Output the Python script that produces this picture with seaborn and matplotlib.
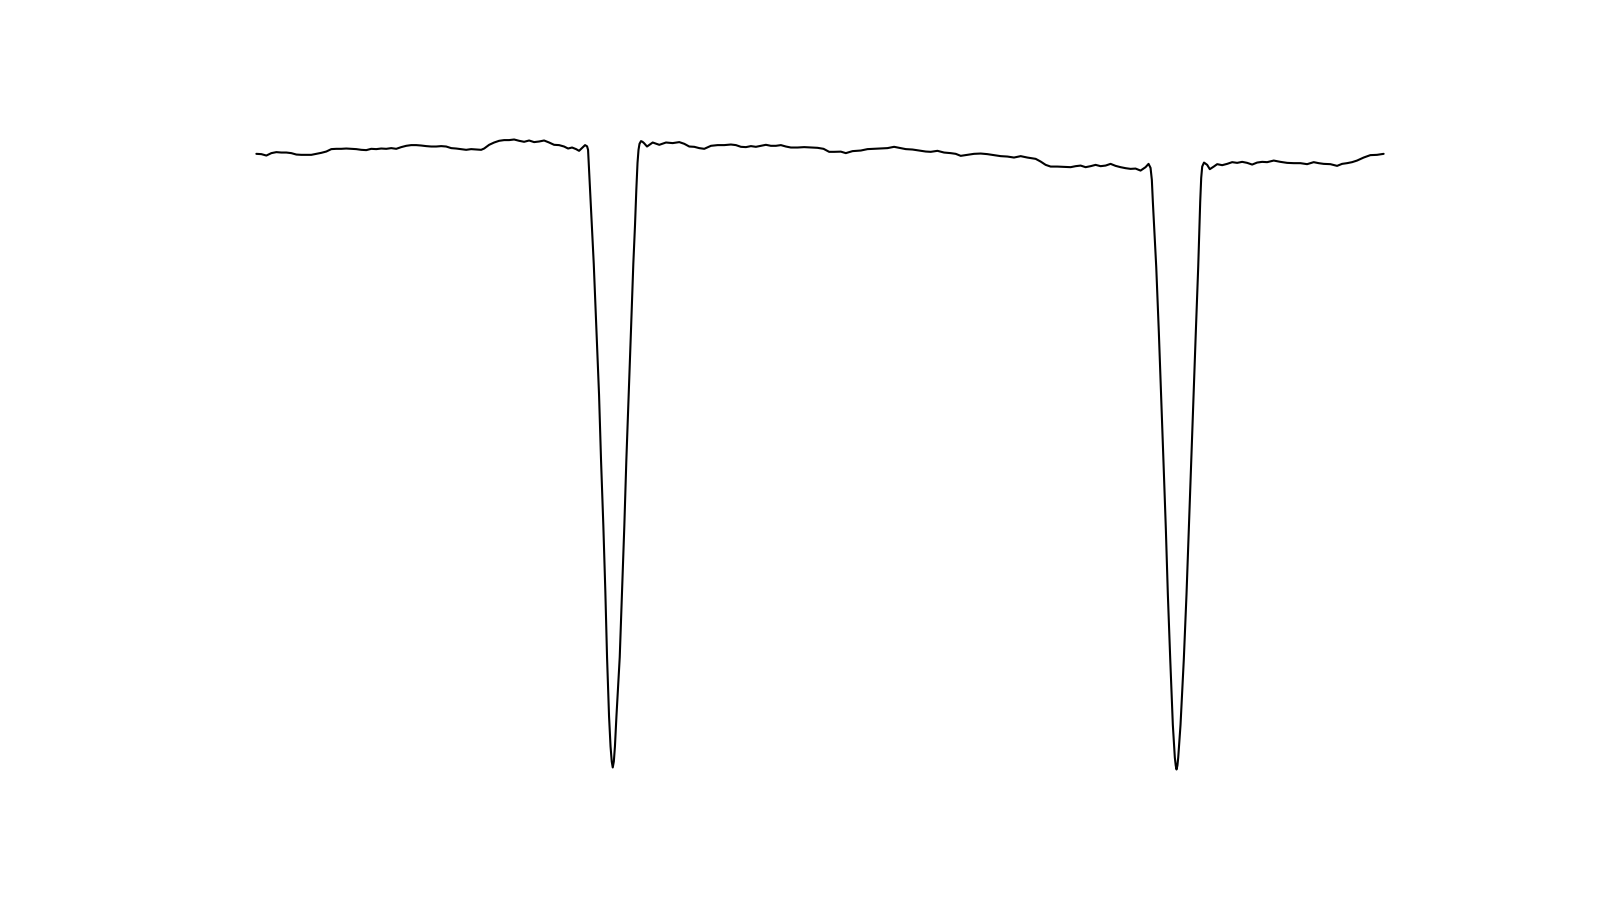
import matplotlib
matplotlib.use("Agg")
import matplotlib.pyplot as plt
import seaborn as sns

# temps (min) et flux relatif
time = [
    0, 5, 10, 15, 20, 25, 30, 35, 40, 45, 50, 55, 60, 65, 70, 75, 80, 85, 90, 95,
    100, 105, 110, 115, 120, 125, 130, 135, 140, 145, 150, 155, 160, 165, 170, 175,
    180, 185, 190, 195, 200, 205, 210, 215, 220, 225, 228, 233, 238, 243, 248, 253,
    258, 263, 268, 273, 278, 283, 288, 293, 298, 303, 308, 312, 316, 320, 323, 327,
    329, 331, 332, 332.5, 334, 336, 337.7, 340.3, 343, 345, 347.3, 349.3, 351, 353,
    354.5, 355.7, 356.7, 357.8, 358.9, 360.4, 363.7, 366, 368.3, 370.3, 372.7, 375,
    377.3, 379, 380.3, 381.5, 382.5, 383.5, 385, 386.5, 388, 391, 396.7, 403.3, 410,
    416.7, 423.3, 428.3, 433.3, 438.3, 443.3, 448.3, 455, 461.7, 468.3, 475, 480,
    485, 490, 495, 500, 505, 510, 515, 520, 525, 530, 535, 541.7, 548.3, 555, 561.7,
    567.7, 573.3, 578.3, 585, 590, 596.7, 605, 611.7, 618.3, 625, 631.7, 638.3,
    643.3, 650, 656.7, 663.3, 670, 675, 681.7, 688.3, 695, 700, 705, 711.7, 718.3,
    725, 731.7, 738.3, 745, 751.7, 758.3, 765, 771.7, 778.3, 780, 785, 790, 795,
    801.7, 808.3, 815, 820, 825, 830, 835, 840, 845, 850, 855, 860, 865, 870, 875,
    880, 885, 890, 893, 895, 896.3, 897.3, 900.7, 903.3, 905.7, 908, 910.3, 912.3,
    914.7, 917.3, 919.3, 920.2, 921, 921.9, 922.7, 925, 928.3, 931, 933.3, 935.7,
    938, 940.3, 942.7, 944.7, 945.7, 946.7, 948.5, 951.7, 954.3, 958.3, 961.7,
    966.7, 971.7, 976.7, 981.7, 986.7, 991.7, 996.7, 1001.7, 1006.7, 1011.7, 1018.3,
    1025, 1031.7, 1038.3, 1045, 1051.7, 1058.3, 1063.3, 1068.3, 1075, 1081.7,
    1086.7, 1091.7, 1096.7, 1101.7, 1108.3, 1115, 1121.7, 1128.3,
]

flux = [
    846.0, 845.7, 844.3, 846.7, 847.7, 847.3, 847.3, 846.7, 845.3, 845.0, 845.0,
    845.0, 846.0, 847.0, 848.3, 850.7, 851.0, 851.0, 851.3, 851.0, 850.7, 850.0,
    849.7, 851.0, 850.7, 851.3, 851.0, 851.7, 851.0, 852.7, 854.0, 854.7, 854.7,
    854.3, 853.7, 853.3, 853.3, 853.7, 853.3, 851.7, 851.3, 850.7, 850.0, 850.7,
    850.3, 850.0, 851.3, 855.0, 857.3, 859.0, 859.7, 859.7, 860.3, 859.0, 858.0,
    859.3, 857.7, 858.3, 859.3, 857.3, 855.0, 854.7, 853.3, 851.3, 852.3, 850.7,
    849.0, 852.7, 854.7, 853.5, 850.0, 840.0, 810.0, 770.0, 736.3, 671.0, 605.5,
    540.0, 475.0, 409.3, 344.0, 285.0, 255.0, 240.0, 234.0, 240.0, 255.0, 285.0,
    344.0, 409.3, 475.0, 540.0, 605.5, 671.0, 736.3, 775.0, 810.0, 837.0, 850.0,
    856.0, 858.7, 858.0, 856.7, 853.3, 857.3, 855.0, 857.3, 856.7, 857.7, 856.0,
    853.3, 853.0, 851.7, 851.0, 854.0, 854.7, 854.7, 855.3, 854.7, 853.0, 852.7,
    853.7, 853.0, 854.0, 855.0, 854.0, 854.0, 854.7, 853.3, 852.3, 852.3, 852.7,
    852.3, 852.0, 851.0, 848.0, 848.0, 848.2, 846.7, 848.7, 849.3, 850.7, 851.0,
    851.3, 851.7, 853.0, 852.0, 850.7, 850.3, 849.3, 848.3, 848.0, 849.0, 847.3,
    846.7, 846.0, 844.0, 845.0, 846.0, 846.3, 845.7, 844.7, 843.7, 843.3, 842.3,
    843.7, 842.3, 841.3, 841.0, 838.3, 835.0, 833.3, 833.3, 833.0, 832.7, 833.7,
    834.3, 832.7, 833.7, 835.0, 833.7, 834.3, 836.0, 834.0, 832.7, 831.7, 831.0,
    831.3, 829.3, 832.7, 836.0, 832.0, 820.0, 798.2, 733.0, 668.0, 602.6, 537.4,
    472.2, 407.0, 342.0, 276.6, 244.0, 236.0, 232.0, 236.0, 244.0, 276.6, 342.0,
    407.0, 472.2, 537.4, 602.6, 668.0, 733.0, 798.2, 822.0, 833.3, 837.3, 835.0,
    830.7, 833.3, 835.7, 834.7, 836.0, 837.7, 837.0, 838.0, 837.0, 835.3, 837.3,
    838.0, 837.7, 839.3, 838.0, 837.0, 836.7, 836.7, 835.7, 837.7, 836.7, 836.0,
    835.7, 834.0, 836.0, 836.7, 837.7, 839.3, 842.3, 844.7, 845.0, 846.0,
]

sns.set_style("white")

fig, ax = plt.subplots(figsize=(16, 9), dpi=100)
sns.lineplot(x=time, y=flux, ax=ax, color="black", linewidth=1.5)
ax.set_axis_off()

fig.savefig("out.png", dpi=100)
